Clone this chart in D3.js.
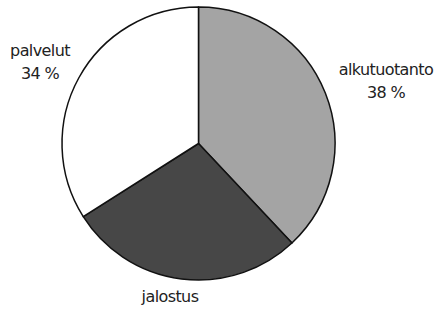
<!DOCTYPE html>
<html><head><meta charset="utf-8">
<script src="https://cdn.jsdelivr.net/npm/d3@7"></script>
<style>body{margin:0;background:#fff}svg{display:block}text{font-family:"DejaVu Sans",sans-serif;fill:#222}</style>
</head><body>
<script>
const categories = ["alkutuotanto", "jalostus", "palvelut"];
const values = [38, 28, 34];
const percentLabels = ["38 %", "", "34 %"];
const colors = ["#a4a4a4", "#474747", "#ffffff"];

const W = 440, H = 314;
const svg = d3.select("body").append("svg").attr("width", W).attr("height", H);
const cx = 198.5, cy = 143.5, R = 136.5;
const g = svg.append("g").attr("transform", `translate(${cx},${cy})`);
const pie = d3.pie().sort(null).value(d => d.v);
const data = categories.map((c, i) => ({c, v: values[i], p: percentLabels[i], col: colors[i]}));
const arcs = pie(data);
const arc = d3.arc().innerRadius(0).outerRadius(R);
g.selectAll("path").data(arcs).join("path")
  .attr("d", arc).attr("fill", d => d.data.col)
  .attr("stroke", "#111").attr("stroke-width", 1.5).attr("stroke-linejoin", "round");

// label positions outside slices
const labelPos = {
  "alkutuotanto": [386, 75],
  "jalostus": [170, 302],
  "palvelut": [40, 56]
};
arcs.forEach(a => {
  const [x, y] = labelPos[a.data.c];
  const t = svg.append("text").attr("x", x).attr("y", y).attr("text-anchor", "middle")
    .attr("font-size", 16).attr("letter-spacing", -0.6).text(a.data.c);
  if (a.data.p) {
    svg.append("text").attr("x", x).attr("y", y + 23).attr("text-anchor", "middle")
      .attr("font-size", 16).attr("letter-spacing", -0.6).text(a.data.p);
  }
});
</script>
</body></html>
